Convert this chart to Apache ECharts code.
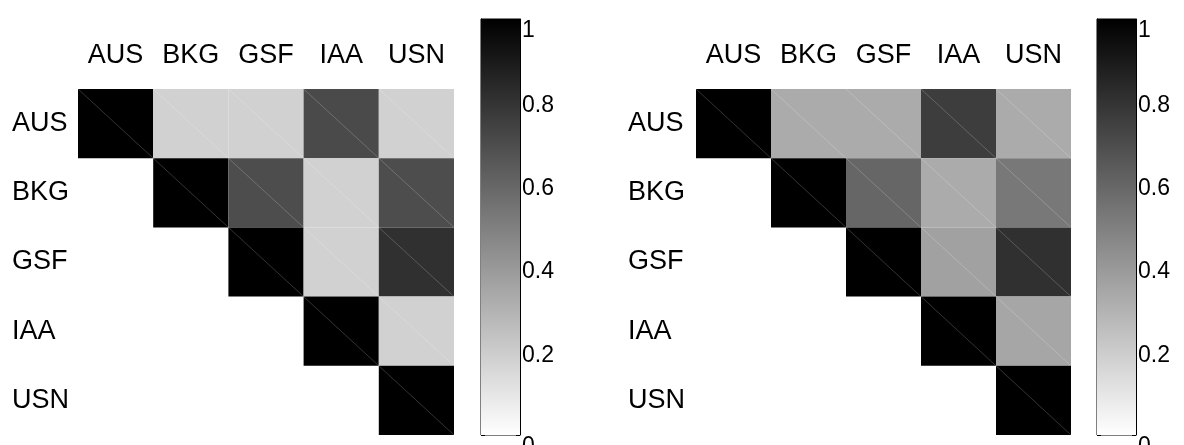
<!DOCTYPE html>
<html>
<head>
<meta charset="utf-8">
<script src="https://cdn.jsdelivr.net/npm/echarts@6/dist/echarts.min.js"></script>
<style>
  html, body { margin: 0; padding: 0; background: #fff; }
  #chart { width: 1184px; height: 445px; }
</style>
</head>
<body>
<div id="chart"></div>
<script>
// stations, same order on both axes
const stations = ['AUS', 'BKG', 'GSF', 'IAA', 'USN'];
// upper triangle only, null = no cell
const leftValues = [
  [1, 0.18, 0.18, 0.71, 0.18],
  [null, 1, 0.70, 0.18, 0.70],
  [null, null, 1, 0.18, 0.81],
  [null, null, null, 1, 0.18],
  [null, null, null, null, 1]
];
const rightValues = [
  [1, 0.33, 0.33, 0.76, 0.33],
  [null, 1, 0.60, 0.33, 0.53],
  [null, null, 1, 0.37, 0.81],
  [null, null, null, 1, 0.35],
  [null, null, null, null, 1]
];
const colorbarTicks = [0, 0.2, 0.4, 0.6, 0.8, 1];

const fontFamily = '"Liberation Sans", Arial, sans-serif';

function toCells(matrix) {
  let cells = [];
  matrix.forEach((row, i) => {
    row.forEach((v, j) => {
      if (v !== null) cells.push([j, i, v]);
    });
  });
  return cells;
}

function renderCell(params, api) {
  const p = api.coord([api.value(0), api.value(1)]);
  const s = api.size([1, 1]);
  const x0 = p[0] - s[0] / 2;
  const y0 = p[1] - s[1] / 2;
  return {
    type: 'group',
    children: [
      { type: 'rect', shape: { x: x0, y: y0, width: s[0], height: s[1] }, style: { fill: api.visual('color') } },
      { type: 'line', shape: { x1: x0, y1: y0, x2: x0 + s[0], y2: y0 + s[1] }, style: { stroke: 'rgba(255,255,255,0.2)', lineWidth: 1 } }
    ]
  };
}

function matrixAxes(idx, labelMargin) {
  return {
    x: {
      type: 'category', gridIndex: idx, data: stations, position: 'top',
      axisLine: { show: false }, axisTick: { show: false }, splitLine: { show: false },
      axisLabel: { fontSize: 27, color: '#000', fontFamily, margin: 20 }
    },
    y: {
      type: 'category', gridIndex: idx, data: stations, inverse: true,
      axisLine: { show: false }, axisTick: { show: false }, splitLine: { show: false },
      axisLabel: { fontSize: 27, color: '#000', fontFamily, align: 'left', margin: labelMargin }
    }
  };
}

function colorbarAxes(idx) {
  const base = {
    type: 'value', gridIndex: idx, min: colorbarTicks[0], max: colorbarTicks[colorbarTicks.length - 1], interval: 0.2,
    axisLine: { show: true, lineStyle: { color: '#000', width: 1 } },
    axisTick: { show: true, inside: true, length: 4, lineStyle: { color: '#000' } },
    splitLine: { show: false }
  };
  return [
    Object.assign({}, base, { position: 'left', axisLabel: { show: false } }),
    Object.assign({}, base, {
      position: 'right',
      axisLabel: {
        show: true, fontSize: 23, color: '#000', fontFamily, margin: 2,
        verticalAlignMinLabel: 'top', verticalAlignMaxLabel: 'top',
        // middle labels sit a little below their tick, like the original
        formatter: v => (v === 0 || v === 1) ? String(v) : '{m|' + v + '}',
        rich: { m: { fontSize: 23, color: '#000', fontFamily, padding: [7, 0, 0, 0] } }
      }
    })
  ];
}

const m0 = matrixAxes(0, 66);
const m1 = matrixAxes(1, 68);
const cb0 = colorbarAxes(2);
const cb1 = colorbarAxes(3);

const gradient = new echarts.graphic.LinearGradient(0, 0, 0, 1, [
  { offset: 0, color: '#000000' },
  { offset: 1, color: '#ffffff' }
]);

const cbGrid = { top: 19, width: 39, height: 416, show: true, borderColor: '#000', borderWidth: 1, backgroundColor: 'transparent', outerBoundsMode: 'none', containLabel: false };

const myChart = echarts.init(document.getElementById('chart'));
const option = {
  backgroundColor: '#fff',
  animation: false,
  grid: [
    { left: 78, top: 89, width: 376, height: 346, outerBoundsMode: 'none', containLabel: false },
    { left: 696, top: 89, width: 375, height: 346, outerBoundsMode: 'none', containLabel: false },
    Object.assign({ left: 481 }, cbGrid),
    Object.assign({ left: 1097 }, cbGrid)
  ],
  xAxis: [
    m0.x, m1.x,
    { type: 'category', gridIndex: 2, data: [''], show: false },
    { type: 'category', gridIndex: 3, data: [''], show: false }
  ],
  yAxis: [m0.y, m1.y, cb0[0], cb0[1], cb1[0], cb1[1]],
  visualMap: [
    { type: 'continuous', show: false, min: 0, max: 1, dimension: 2, seriesIndex: 0, inRange: { color: ['#ffffff', '#000000'] } },
    { type: 'continuous', show: false, min: 0, max: 1, dimension: 2, seriesIndex: 1, inRange: { color: ['#ffffff', '#000000'] } }
  ],
  series: [
    { type: 'custom', xAxisIndex: 0, yAxisIndex: 0, data: toCells(leftValues), renderItem: renderCell },
    { type: 'custom', xAxisIndex: 1, yAxisIndex: 1, data: toCells(rightValues), renderItem: renderCell },
    { type: 'bar', xAxisIndex: 2, yAxisIndex: 2, data: [1], barWidth: '100%', itemStyle: { color: gradient }, silent: true },
    { type: 'bar', xAxisIndex: 3, yAxisIndex: 4, data: [1], barWidth: '100%', itemStyle: { color: gradient }, silent: true }
  ]
};
myChart.setOption(option);
</script>
</body>
</html>
